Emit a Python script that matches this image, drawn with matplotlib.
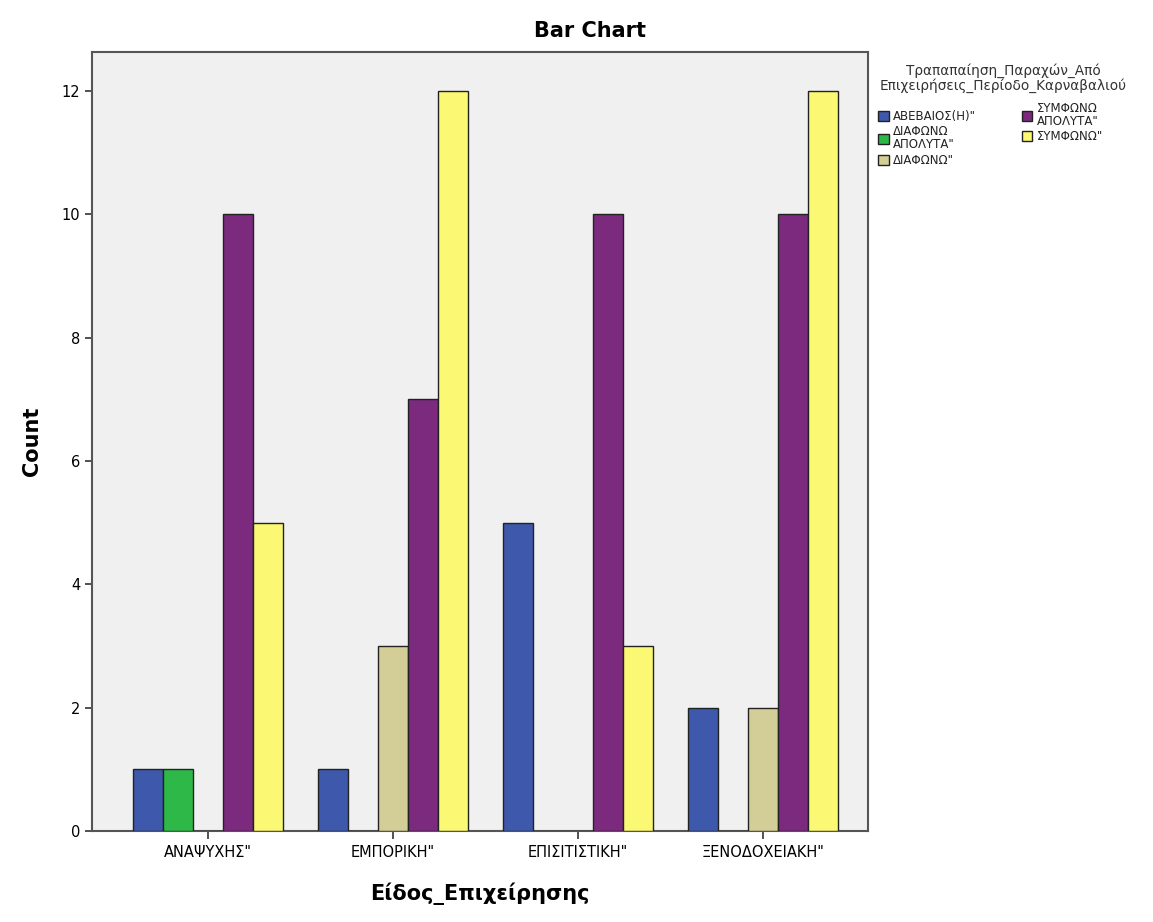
import numpy as np
import matplotlib.pyplot as plt
from matplotlib.patches import Patch

categories = ['ΑΝΑΨΥΧΗΣ"', 'ΕΜΠΟΡΙΚΗ"', 'ΕΠΙΣΙΤΙΣΤΙΚΗ"', 'ΞΕΝΟΔΟΧΕΙΑΚΗ"']
series_names = ['ΑΒΕΒΑΙΟΣ(Η)"', 'ΔΙΑΦΩΝΩ\nΑΠΟΛΥΤΑ"', 'ΔΙΑΦΩΝΩ"', 'ΣΥΜΦΩΝΩ\nΑΠΟΛΥΤΑ"', 'ΣΥΜΦΩΝΩ"']
abebaios = [1, 1, 5, 2]
diafono_apoluta = [1, 0, 0, 0]
diafono = [0, 3, 0, 2]
symfono_apoluta = [10, 7, 10, 10]
symfono = [5, 12, 3, 12]
series = [abebaios, diafono_apoluta, diafono, symfono_apoluta, symfono]
colors = ['#3E58AC', '#2EB848', '#D3CE97', '#7B2A7E', '#FBF873']

fig = plt.figure(figsize=(11.53, 9.22), dpi=100)
ax = fig.add_axes([0.0798, 0.0987, 0.673, 0.845])
ax.set_facecolor('#F0F0F0')

x = np.arange(len(categories))
w = 30 / 185
for i, (vals, c) in enumerate(zip(series, colors)):
    ax.bar(x + (i - 2) * w, vals, width=w, color=c, edgecolor='#222222', linewidth=1.0, zorder=3)

ax.set_xlim(-0.627, 3.568)
ax.set_ylim(0, 12.63)
ax.set_yticks([0, 2, 4, 6, 8, 10, 12])
ax.set_xticks(x)
ax.set_xticklabels(categories, fontsize=10.5)
ax.tick_params(axis='y', labelsize=10.5, length=5, width=1.2, color='#333333')
ax.tick_params(axis='x', length=6, width=1.2, color='#333333', pad=4)
for s in ax.spines.values():
    s.set_color('#555555')
    s.set_linewidth(1.5)

ax.set_ylabel('Count', fontsize=15, fontweight='bold', labelpad=14)
ax.set_xlabel('Είδος_Επιχείρησης', fontsize=15, fontweight='bold', labelpad=16)
fig.text(0.512, 0.966, 'Bar Chart', ha='center', va='center', fontsize=15, fontweight='bold')

# legend title drawn separately so entries line up on the left like the original
fig.text(1003 / 1153, 1 - 78 / 922, 'Τραπαπαίηση_Παραχών_Από\nΕπιχειρήσεις_Περίοδο_Καρναβαλιού',
         ha='center', va='center', fontsize=9.8, color='#333333', linespacing=1.0)
handles = [Patch(facecolor=c, edgecolor='#222222', label=n) for c, n in zip(colors, series_names)]
leg = fig.legend(handles=handles, loc='upper left', bbox_to_anchor=(878 / 1153, 1 - 102 / 922), ncol=2,
                 frameon=False, fontsize=8.5, handlelength=0.9, handleheight=0.9, handletextpad=0.35,
                 columnspacing=3.9, labelspacing=0.2, borderpad=0.0, borderaxespad=0.0)
for t in leg.get_texts():
    t.set_color('#222222')
    t.set_linespacing(1.0)

fig.savefig('out.png', dpi=100)
